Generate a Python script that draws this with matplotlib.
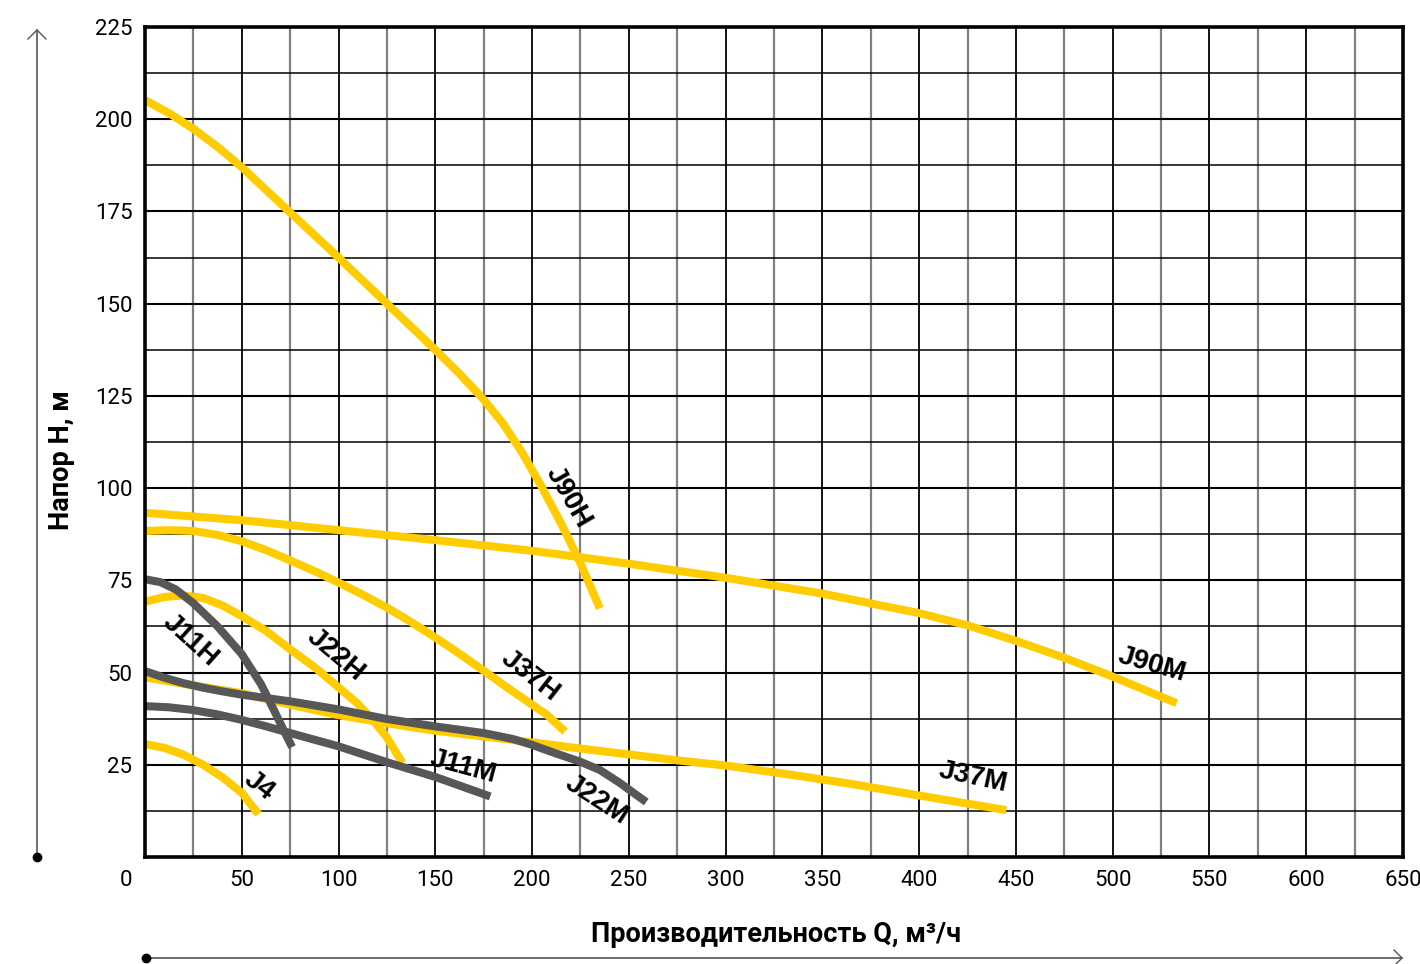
import matplotlib.pyplot as plt
from matplotlib.lines import Line2D

# pump curves, Q in m3/h, H in m
j90h_q = [0, 12.5, 25, 37.5, 50, 75, 100, 125, 150, 162.5, 175, 185, 195, 205, 215, 225, 235]
j90h_h = [205.2, 201.6, 197.4, 192.5, 187, 174.7, 162.5, 150, 137.5, 131, 124, 117.5, 109.5, 100.3, 90.4, 79.6, 67.4]

j90m_q = [0, 50, 100, 150, 200, 250, 300, 350, 400, 425, 450, 475, 500, 533]
j90m_h = [93.3, 91.3, 88.6, 85.9, 83, 79.5, 75.7, 71.4, 66.1, 62.8, 58.6, 54, 48.9, 41.7]

j37h_q = [0, 12.5, 25, 37.5, 50, 62.5, 75, 87.5, 100, 112.5, 125, 137.5, 150, 162.5, 175, 187.5, 200, 208, 217]
j37h_h = [88.4, 88.6, 88.4, 87.3, 85.6, 83.2, 80.4, 77.5, 74.4, 71.1, 67.6, 63.7, 59.5, 55.1, 50.5, 45.8, 41.3, 38.4, 34]

j37m_q = [0, 25, 49, 75, 99.5, 124.5, 149, 189, 225, 275, 300, 339, 365, 398.5, 445]
j37m_h = [48.7, 46.5, 44.5, 41.3, 38.5, 36.3, 34.3, 31.8, 29.4, 26.2, 24.8, 21.9, 19.8, 16.8, 12.7]

j22h_q = [0, 10, 20, 30, 40, 50, 62.5, 75, 87.5, 100, 110, 118, 125, 133]
j22h_h = [69.2, 70.5, 70.9, 70.2, 68.2, 65.3, 61.3, 56.3, 51.5, 46, 41.5, 37, 32.4, 25.5]

j4_q = [0, 10, 20, 30, 40, 50, 58.6]
j4_h = [30.6, 29.6, 27.7, 25, 21.6, 17.4, 11.6]

j11h_q = [0, 8, 16, 25, 37.5, 50, 60, 67, 72, 76]
j11h_h = [75.3, 74.5, 72.5, 68.8, 62.5, 55, 46.8, 39.4, 34, 29.8]

j11m_q = [0, 12, 24, 37, 49, 62, 75, 100, 125, 150, 178.4]
j11m_h = [40.9, 40.6, 39.9, 38.7, 37.3, 35.5, 33.6, 30, 25.7, 21.7, 16.4]

j22m_q = [0, 10, 20, 30, 40, 50, 75, 100, 125, 150, 175, 190, 200, 210, 225, 235, 245, 259]
j22m_h = [50.4, 48.6, 47.1, 45.9, 44.9, 44, 42.2, 40, 37.4, 35.4, 33.6, 32, 30.4, 28.5, 25.8, 23.6, 20.2, 14.9]

yellow = '#FFCC00'
gray = '#575757'

# name, x, y, rotation
labels = [
    ('J90H', 218.6, 97.6, -60),
    ('J90M', 520.3, 52, -16),
    ('J37M', 427.8, 21.7, -12),
    ('J37H', 198.9, 49, -38),
    ('J22H', 98.7, 54.8, -40),
    ('J11H', 23.3, 58.8, -42),
    ('J4', 58.9, 19.2, -38),
    ('J11M', 164.3, 24.4, -15),
    ('J22M', 233.5, 15.5, -33),
]

x_ticks = list(range(50, 651, 50))
y_ticks = list(range(25, 226, 25))

fig = plt.figure(figsize=(14.2, 9.64), dpi=100)
ax = fig.add_axes([145 / 1420, 107 / 964, 1258 / 1420, 830 / 964])

ax.set_xlim(0, 650)
ax.set_ylim(0, 225)

# grid
for q in range(25, 650, 25):
    if q % 50 == 0:
        ax.axvline(q, color='black', lw=1.3, zorder=1)
    else:
        ax.axvline(q, color='#808080', lw=1.6, zorder=1)
for h in [i * 12.5 for i in range(1, 18)]:
    ax.axhline(h, color='black', lw=1.5 if h % 25 == 0 else 1.1, zorder=1)

lw = 5.8
for qs, hs in [(j90h_q, j90h_h), (j90m_q, j90m_h), (j37h_q, j37h_h), (j37m_q, j37m_h),
               (j22h_q, j22h_h), (j4_q, j4_h)]:
    ax.plot(qs, hs, color=yellow, lw=lw, solid_capstyle='butt', solid_joinstyle='round', zorder=3)
for qs, hs in [(j11h_q, j11h_h), (j11m_q, j11m_h), (j22m_q, j22m_h)]:
    ax.plot(qs, hs, color=gray, lw=lw, solid_capstyle='butt', solid_joinstyle='round', zorder=4)

for name, x, y, rot in labels:
    ax.text(x, y, name, rotation=rot, ha='center', va='center', fontsize=20,
            fontweight='bold', family='Liberation Sans', rotation_mode='anchor', zorder=5)

for s in ax.spines.values():
    s.set_linewidth(2.6)
    s.set_zorder(6)

ax.set_xticks(x_ticks)
ax.set_xticklabels([str(v) for v in x_ticks], family='Roboto', fontsize=16)
ax.set_yticks(y_ticks)
ax.set_yticklabels([str(v) for v in y_ticks], family='Roboto', fontsize=16)
ax.tick_params(length=0, pad=9)
ax.text(-9.8, -6.5, '0', ha='center', va='center', family='Roboto', fontsize=16)

fig.text(776 / 1420, 1 - 935 / 964, 'Производительность Q, м³/ч', ha='center', va='center',
         family='Roboto', fontweight='bold', fontsize=19.5)
fig.text(62 / 1420, 1 - 460 / 964, 'Напор H, м', ha='center', va='center', rotation=90,
         family='Roboto', fontweight='bold', fontsize=19.5)

# arrows around the axes
fig.add_artist(Line2D([37 / 1420, 37 / 1420], [107 / 964, 1 - 30 / 964],
                      transform=fig.transFigure, color='#555555', lw=1.2))
fig.add_artist(Line2D([28 / 1420, 37 / 1420, 46 / 1420], [1 - 39 / 964, 1 - 30 / 964, 1 - 39 / 964],
                      transform=fig.transFigure, color='#555555', lw=1.0))
fig.add_artist(Line2D([37 / 1420], [107 / 964], transform=fig.transFigure,
                      marker='o', color='black', markersize=6))
fig.add_artist(Line2D([146 / 1420, 1402 / 1420], [6 / 964, 6 / 964],
                      transform=fig.transFigure, color='#555555', lw=1.2))
fig.add_artist(Line2D([1394 / 1420, 1402 / 1420, 1394 / 1420], [14 / 964, 6 / 964, -2 / 964],
                      transform=fig.transFigure, color='#555555', lw=1.0))
fig.add_artist(Line2D([146 / 1420], [6 / 964], transform=fig.transFigure,
                      marker='o', color='black', markersize=6))

fig.savefig('out.png', dpi=100)
